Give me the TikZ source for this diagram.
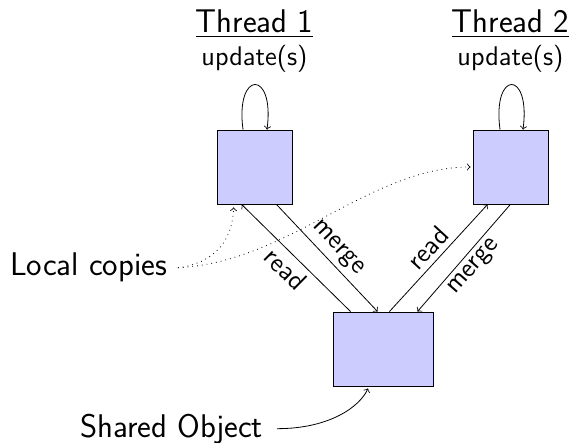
\documentclass[tikz,border=0pt]{standalone}
\begin{document}
\begin{tikzpicture}[x=0.5pt, y=-0.5pt,
  box/.style={draw, fill=blue!20, minimum width=37.5pt, minimum height=37pt, inner sep=0pt},
  bigtext/.style={font=\fontsize{16.4}{19}\selectfont\sffamily},
  smalltext/.style={font=\fontsize{13.5}{16}\selectfont\sffamily},
  lbl/.style={smalltext, sloped, inner sep=2.5pt}]
\useasboundingbox (0,0) rectangle (573,443);

% thread-local copies and the shared object
\node[box] (t1) at (254.5,167) {};
\node[box] (t2) at (510.5,167) {};
\node[box, minimum width=50pt] (sh) at (383,349) {};

% thread headings
\node[bigtext, anchor=base] (th1) at (254.5,33) {\underline{Thread 1}};
\node[smalltext, anchor=base] (up1) at (254.5,66) {update(s)};
\node[bigtext, anchor=base] (th2) at (510.5,33) {\underline{Thread 2}};
\node[smalltext, anchor=base] (up2) at (510.5,66) {update(s)};

% side captions
\node[bigtext, anchor=base east] (lc) at (174,276) {Local copies};
\node[bigtext, anchor=base east] (so) at (270,437) {Shared Object};

% local updates
\draw[->] ([xshift=-5.75pt]t1.north) .. controls +(-8,-60) and +(8,-60) .. ([xshift=6.25pt]t1.north);
\draw[->] ([xshift=-5.25pt]t2.north) .. controls +(-8,-60) and +(8,-60) .. ([xshift=6.25pt]t2.north);

% read / merge traffic
\draw[<-] ([xshift=12.5pt]t1.south west) -- node[lbl, below] {read} ([xshift=9pt]sh.north west);
\draw[->] ([xshift=-8pt]t1.south east) -- node[lbl, above] {merge} ([xshift=22.5pt]sh.north west);
\draw[->] ([xshift=-22pt]sh.north east) -- node[lbl, above] {read} ([xshift=7.5pt]t2.south west);
\draw[<-] ([xshift=-8pt]sh.north east) -- node[lbl, below] {merge} ([xshift=-19pt]t2.south east);

% caption pointers
\draw[dotted, ->] ([xshift=2pt]lc.east) .. controls +(37,-5) and +(-1,33) .. ([xshift=8.5pt,yshift=-1.5pt]t1.south west);
\draw[dotted, ->] ([xshift=2pt]lc.east) .. controls +(112,-6) and +(-101,0) .. ([xshift=-1pt]t2.west);
\draw[->] ([xshift=3.5pt]so.east) .. controls +(53,0) and +(-8,18) .. ([xshift=-7.5pt,yshift=-1pt]sh.south);
\end{tikzpicture}
\end{document}
